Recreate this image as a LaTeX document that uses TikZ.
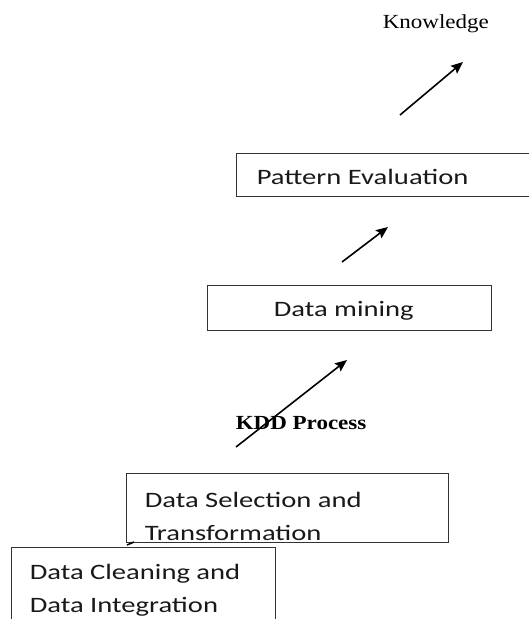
\documentclass[tikz,border=0pt]{standalone}
\usepackage{fontspec}
\setmainfont[FakeStretch=1.3]{Carlito}
\newfontfamily\serifhead[FakeStretch=1.15]{Liberation Serif}
\usetikzlibrary{arrows.meta}

\begin{document}
\begin{tikzpicture}[->,>={Stealth[length=12pt,width=10pt,inset=2pt]},x=1pt,y=-1pt,line width=1.6pt]
  \tikzstyle{box}=[draw=black!80,line width=1.1pt,rectangle,anchor=north west,inner sep=0pt]
  \tikzstyle{boxtext}=[anchor=base west,inner sep=0pt,align=left,text=black!90,
                       font=\fontsize{22}{33}\selectfont]
  \tikzstyle{headtext}=[anchor=base west,inner sep=0pt,font=\serifhead\fontsize{20}{24}\selectfont]

  \useasboundingbox (0,0) rectangle (529,619);
  \clip (0,0) rectangle (529,619);

  % boxes of the process steps
  \node[box,minimum width=300pt,minimum height=43pt] (pattern)   at (236,153) {};
  \node[box,minimum width=284pt,minimum height=45pt] (mining)    at (207,285) {};
  \node[box,minimum width=322pt,minimum height=69pt] (selection) at (126,473) {};
  \node[box,minimum width=264pt,minimum height=100pt] (cleaning) at (11,547) {};

  % two-line labels sit on the baseline of their last line
  \node[boxtext] (patternlbl) at (256,184) {Pattern Evaluation};
  \node[boxtext] (mininglbl)  at (273,316) {Data mining};
  \begin{scope}
    \clip (selection.north west) rectangle (selection.south east);
    \node[boxtext] (selectionlbl) at (144,540) {Data Selection and\\Transformation};
  \end{scope}
  \node[boxtext] (cleaninglbl) at (29,612) {Data Cleaning and\\Data Integration};

  \node[headtext] (knowledge) at (382,28) {Knowledge};
  \node[headtext,font=\serifhead\bfseries\fontsize{20}{24}\selectfont] (kdd) at (235,429) {KDD Process};

  % arrow ends
  \coordinate (c0) at (127,545); \coordinate (c1) at (134,542);
  \coordinate (a0) at (236,447); \coordinate (a1) at (347,360);
  \coordinate (b0) at (342,262); \coordinate (b1) at (388,227);
  \coordinate (d0) at (400,115); \coordinate (d1) at (463,62);

  \draw[-] (c0) -- (c1);
  \draw (a0) -- (a1);
  \draw (b0) -- (b1);
  \draw (d0) -- (d1);
\end{tikzpicture}
\end{document}
